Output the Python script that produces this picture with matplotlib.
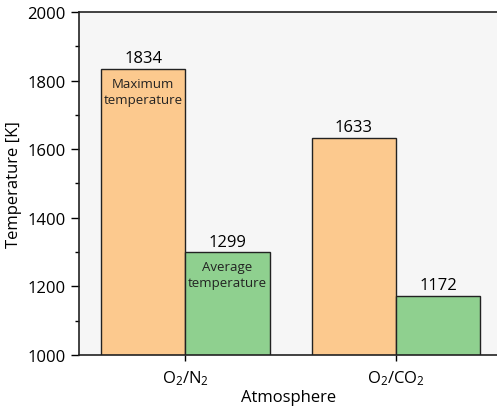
import numpy as np
import matplotlib
matplotlib.use("Agg")
import matplotlib.pyplot as plt
from matplotlib.ticker import MultipleLocator

plt.rcParams['font.family'] = ['Open Sans', 'DejaVu Sans']
plt.rcParams['mathtext.fontset'] = 'custom'
plt.rcParams['mathtext.rm'] = 'Open Sans'
plt.rcParams['mathtext.it'] = 'Open Sans'

atmospheres = [r'O$_2$/N$_2$', r'O$_2$/CO$_2$']
max_temp = [1834, 1633]
avg_temp = [1299, 1172]

x = np.arange(len(atmospheres))
width = 0.4  # bar width

fig = plt.figure(figsize=(4.97, 4.10), dpi=100)
ax = fig.add_axes([0.159, 0.132, 0.845, 0.836])
ax.set_facecolor('#f6f6f6')

bars1 = ax.bar(x - width/2, max_temp, width, color='#fcc98e',
               edgecolor='#222222', linewidth=1.0, zorder=2)
bars2 = ax.bar(x + width/2, avg_temp, width, color='#8fd08f',
               edgecolor='#222222', linewidth=1.0, zorder=2)

# value labels on top of bars
for r in list(bars1.patches) + list(bars2.patches):
    ax.text(r.get_x() + r.get_width()/2, r.get_height() + 8,
            str(int(r.get_height())), ha='center', va='bottom', fontsize=12)

# descriptions inside the first group
r = bars1.patches[0]
ax.text(r.get_x() + r.get_width()/2, r.get_height() - 22, 'Maximum\ntemperature',
        ha='center', va='top', fontsize=9.5, linespacing=1.3, color='#222222')
r = bars2.patches[0]
ax.text(r.get_x() + r.get_width()/2, r.get_height() - 22, 'Average\ntemperature',
        ha='center', va='top', fontsize=9.5, linespacing=1.3, color='#222222')

ax.set_ylim(1000, 2000)
ax.set_xlim(-0.505, 1.49)
ax.yaxis.set_major_locator(MultipleLocator(200))
ax.yaxis.set_minor_locator(MultipleLocator(100))
ax.set_xticks(x, atmospheres)
ax.tick_params(axis='y', which='major', length=6, width=1, labelsize=12)
ax.tick_params(axis='y', which='minor', length=3, width=1)
ax.tick_params(axis='x', length=4, width=1, labelsize=12, pad=6)

ax.set_ylabel('Temperature [K]', fontsize=12, labelpad=4)
ax.set_xlabel('Atmosphere', fontsize=12, labelpad=1)

ax.spines['right'].set_visible(False)
for s in ['left', 'bottom', 'top']:
    ax.spines[s].set_linewidth(1.2)
    ax.spines[s].set_color('#222222')

fig.savefig('out.png', dpi=100)
